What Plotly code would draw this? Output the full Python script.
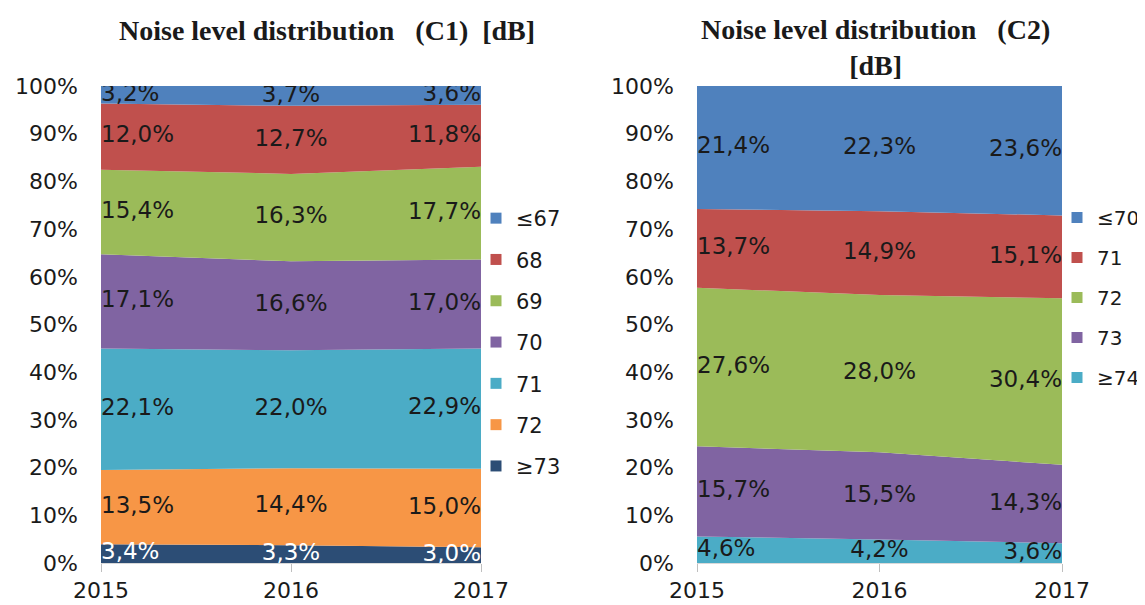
import plotly.graph_objects as go

years = [2015, 2016, 2017]

# C1 series (bottom to top)
c1_names = ["≥73", "72", "71", "70", "69", "68", "≤67"]
c1_ge73 = [3.4, 3.3, 3.0]
c1_72 = [13.5, 14.4, 15.0]
c1_71 = [22.1, 22.0, 22.9]
c1_70 = [17.1, 16.6, 17.0]
c1_69 = [15.4, 16.3, 17.7]
c1_68 = [12.0, 12.7, 11.8]
c1_le67 = [3.2, 3.7, 3.6]

# C2 series (bottom to top)
c2_names = ["≥74", "73", "72", "71", "≤70"]
c2_ge74 = [4.6, 4.2, 3.6]
c2_73 = [15.7, 15.5, 14.3]
c2_72 = [27.6, 28.0, 30.4]
c2_71 = [13.7, 14.9, 15.1]
c2_le70 = [21.4, 22.3, 23.6]

y_ticks = list(range(0, 101, 10))
y_tick_text = [f"{v}%" for v in y_ticks]

c1_colors = ["#2C4D75", "#F79646", "#4BACC6", "#8064A2", "#9BBB59", "#C0504D", "#4F81BD"]
c2_colors = ["#4BACC6", "#8064A2", "#9BBB59", "#C0504D", "#4F81BD"]
c1_text_colors = ["#FFFFFF"] + ["#1A1A1A"] * 6
c2_text_colors = ["#1A1A1A"] * 5

FONT = "DejaVu Sans"
W, H = 1145, 605
OFF = 8  # page body margin


def px(x):
    return (x - OFF) / W


def py(y):
    return (H - (y - OFF)) / H


fig = go.Figure()


def fmt(v):
    return f"{v:.1f}".replace(".", ",") + "%"


def add_chart(series, names, colors, tcolors, xa, ya, group, legend):
    totals = [sum(s[i] for s in series) for i in range(len(years))]
    cum = [0.0] * len(years)
    for s, name, col, tcol in zip(series, names, colors, tcolors):
        fig.add_trace(go.Scatter(
            x=years, y=s, name=name, stackgroup=group, groupnorm="percent",
            mode="none", fillcolor=col, line=dict(width=0),
            xaxis=xa, yaxis=ya, showlegend=False, hoverinfo="skip"))
        mids = []
        for i in range(len(years)):
            frac = s[i] / totals[i] * 100
            mids.append(cum[i] + frac / 2)
            cum[i] += frac
        fig.add_trace(go.Scatter(
            x=years, y=mids, mode="text", text=[fmt(v) for v in s],
            textposition=["middle right", "middle center", "middle left"],
            textfont=dict(family=FONT, size=23, color=tcol),
            xaxis=xa, yaxis=ya, showlegend=False, hoverinfo="skip"))
    # legend entries, top first
    for name, col in zip(reversed(names), reversed(colors)):
        fig.add_trace(go.Scatter(
            x=[None], y=[None], mode="markers", name=name,
            marker=dict(symbol="square", size=11, color=col),
            legend=legend, legendgroup=group + name, xaxis=xa, yaxis=ya))


add_chart([c1_ge73, c1_72, c1_71, c1_70, c1_69, c1_68, c1_le67], c1_names,
          c1_colors, c1_text_colors, "x", "y", "c1", "legend")
add_chart([c2_ge74, c2_73, c2_72, c2_71, c2_le70], c2_names,
          c2_colors, c2_text_colors, "x2", "y2", "c2", "legend2")

ydom = [py(563), py(86)]
axis_common_x = dict(range=[2015, 2017], tickvals=years, ticks="outside", ticklen=8,
                     tickcolor="#BFBFBF", showline=True, linecolor="#D9D9D9",
                     showgrid=False, zeroline=False, fixedrange=True,
                     tickfont=dict(family=FONT, size=22, color="#1A1A1A"))
axis_common_y = dict(range=[0, 100], tickmode="array", tickvals=y_ticks, ticktext=y_tick_text,
                     showgrid=False, zeroline=False, showline=False, fixedrange=True,
                     ticklabelstandoff=22,
                     tickfont=dict(family=FONT, size=22, color="#1A1A1A"), domain=ydom)

fig.update_layout(
    width=W, height=H,
    margin=dict(l=0, r=0, t=0, b=0, autoexpand=False),
    paper_bgcolor="white", plot_bgcolor="white",
    xaxis=dict(domain=[px(101), px(481)], anchor="y", **axis_common_x),
    yaxis=dict(anchor="x", **axis_common_y),
    xaxis2=dict(domain=[px(697), px(1062)], anchor="y2", **axis_common_x),
    yaxis2=dict(anchor="x2", **axis_common_y),
    legend=dict(x=px(476), y=py(198), xanchor="left", yanchor="top",
                traceorder="grouped", tracegroupgap=11,
                font=dict(family=FONT, size=21, color="#1A1A1A"),
                bgcolor="rgba(0,0,0,0)"),
    legend2=dict(x=px(1057), y=py(198), xanchor="left", yanchor="top",
                 traceorder="grouped", tracegroupgap=11,
                 font=dict(family=FONT, size=20, color="#1A1A1A"),
                 bgcolor="rgba(0,0,0,0)"),
    annotations=[
        dict(text="<b>Noise level distribution   (C1)  [dB]</b>", x=px(327), y=py(30),
             xref="paper", yref="paper", showarrow=False, xanchor="center", yanchor="middle",
             font=dict(family="Liberation Serif", size=28, color="#1A1A1A")),
        dict(text="<b>Noise level distribution   (C2)<br>[dB]</b>", x=px(875), y=py(12),
             xref="paper", yref="paper", showarrow=False, xanchor="center", yanchor="top",
             font=dict(family="Liberation Serif", size=28, color="#1A1A1A")),
    ],
)

fig.write_html("out.html")
